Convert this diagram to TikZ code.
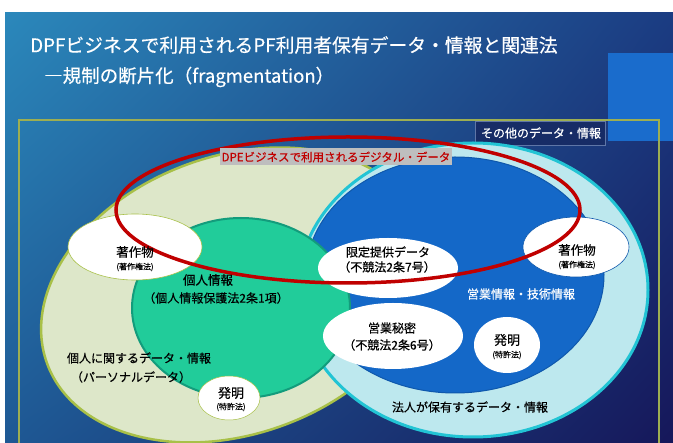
\documentclass[tikz,border=0pt]{standalone}
\usepackage{fontspec}
\setmainfont{Noto Sans CJK JP}[FakeBold=0.45]
\usetikzlibrary{shapes.geometric,shadings}
\definecolor{bgUL}{HTML}{2B88BB}
\definecolor{bgUR}{HTML}{1B3C82}
\definecolor{bgLL}{HTML}{1E5894}
\definecolor{bgLR}{HTML}{16175A}
\definecolor{rectblue}{HTML}{1A6CCC}
\definecolor{frameolive}{HTML}{9DAE52}
\definecolor{otherfill}{HTML}{172C66}
\definecolor{paleg}{HTML}{DDE7C9}
\definecolor{palegline}{HTML}{A8C048}
\definecolor{mint}{HTML}{21CC9A}
\definecolor{mintline}{HTML}{139C7C}
\definecolor{cyanfill}{HTML}{BDE8EE}
\definecolor{cyanline}{HTML}{22C4D4}
\definecolor{deepblue}{HTML}{1468C8}
\definecolor{deepblueline}{HTML}{0F58AC}
\definecolor{redline}{HTML}{C00000}
\definecolor{labelgray}{HTML}{BEBEBE}
\newcommand{\fsz}[1]{\fontsize{#1}{#1}\selectfont}
\begin{document}
\begin{tikzpicture}[x=1pt,y=-1pt,
  oval/.style={ellipse, fill=white, inner sep=0pt},
  txt/.style={inner sep=0pt, text=black, font=\fsz{12.5}},
  smalltxt/.style={inner sep=0pt, text=black, font=\fsz{8}},
  wtxt/.style={inner sep=0pt, text=white, font=\fsz{12}}]
\useasboundingbox (0,0) rectangle (673,443);
\clip (0,0) rectangle (673,443);
\fill[white] (0,0) rectangle (673,443);
\shade[upper left=bgUL, upper right=bgUR, lower left=bgLL, lower right=bgLR] (5,13) rectangle (673,443);
\fill[rectblue] (608,53) rectangle (673,141);
% title
\node[anchor=west, inner sep=0pt, text=white, font=\fsz{18.8}] (title1) at (30,45) {DPFビジネスで利用されるPF利用者保有データ・情報と関連法};
\node[anchor=west, inner sep=0pt, text=white, font=\fsz{18.5}] (title2) at (44,77) {―規制の断片化（fragmentation）};
% frame
\draw[frameolive, line width=1.5pt] (19,120) rectangle (659,470);
\node[anchor=north west, fill=otherfill, draw=bgUR!70!white, line width=0.4pt, minimum width=130pt, minimum height=24pt, inner sep=0pt] (otherbox) at (475,121) {};
\node[wtxt] (othertxt) at (541,133) {その他のデータ・情報};
% left personal-data ellipse
\draw[palegline, line width=2.5pt, fill=paleg, rotate around={20:(235,295)}] (235,295) ellipse [x radius=200pt, y radius=139pt];
% right corporate circle
\draw[cyanline, line width=3pt, fill=cyanfill] (473,290) ellipse [x radius=175pt, y radius=147pt];
% blue inner
\draw[deepblueline, line width=1pt, fill=deepblue] (455,275) ellipse [x radius=149pt, y radius=118pt];
% green personal info
\draw[mintline, line width=2pt, fill=mint] (241,308) ellipse [x radius=109pt, y radius=90pt];
% white ovals
\node[oval, draw=palegline, line width=0.6pt, minimum width=134pt, minimum height=66pt] (chosakuL) at (135,247) {};
\node[oval, minimum width=140pt, minimum height=60pt] (gentei) at (388,268) {};
\node[oval, minimum width=140pt, minimum height=66pt] (eigyo) at (393,336) {};
\node[oval, draw=deepblueline, line width=0.6pt, minimum width=106pt, minimum height=60pt] (chosakuR) at (576,247) {};
\node[oval, minimum width=66pt, minimum height=56pt] (hatsuR) at (507,345) {};
\node[oval, draw=palegline, line width=0.5pt, minimum width=62pt, minimum height=44pt] (hatsuL) at (229,398) {};
% red digital-data ellipse
\draw[redline, line width=3.5pt] (348,210) ellipse [x radius=232pt, y radius=73pt];
\node[fill=labelgray, text=redline, inner sep=0pt, minimum width=232pt, minimum height=17pt, font=\fsz{11.5}] (redlabel) at (336,157) {DPEビジネスで利用されるデジタル・データ};
% texts
\node[txt] (tL1) at (135,252) {著作物};
\node[smalltxt] (tL2) at (135,267) {(著作権法)};
\node[txt] (tR1) at (577,250) {著作物};
\node[smalltxt] (tR2) at (577,265) {(著作権法)};
\node[txt, font=\fsz{12}] (g1) at (388,252) {限定提供データ};
\node[txt, font=\fsz{12}] (g2) at (387,267) {（不競法2条7号）};
\node[txt, font=\fsz{12}] (e1) at (392,328) {営業秘密};
\node[txt, font=\fsz{12}] (e2) at (392,345) {（不競法2条6号）};
\node[txt, font=\fsz{13}] (hR1) at (507,340) {発明};
\node[smalltxt] (hR2) at (507,355) {(特許法)};
\node[txt, font=\fsz{13}] (hL1) at (231,393) {発明};
\node[smalltxt] (hL2) at (231,407) {(特許法)};
\node[txt] (k1) at (208,280) {個人情報};
\node[txt, font=\fsz{12}] (k2) at (216,298) {（個人情報保護法2条1項）};
\node[txt, font=\fsz{12}] (p1) at (139,358) {個人に関するデータ・情報};
\node[txt, font=\fsz{12}] (p2) at (131,377) {（パーソナルデータ）};
\node[wtxt] (biz) at (521,294) {営業情報・技術情報};
\node[txt, font=\fsz{12}] (corp) at (470,407) {法人が保有するデータ・情報};
\end{tikzpicture}
\end{document}
